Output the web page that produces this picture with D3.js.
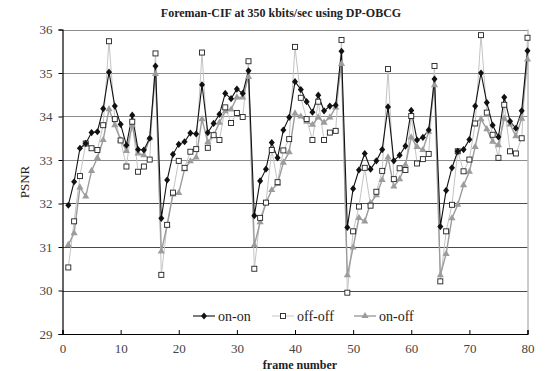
<!DOCTYPE html>
<html>
<head>
<meta charset="utf-8">
<script src="https://cdn.jsdelivr.net/npm/d3@7"></script>
<style>
  html, body { margin: 0; padding: 0; background: #fff; }
  svg, svg text { font-family: "Liberation Serif", "Times New Roman", "DejaVu Serif", serif !important; }
</style>
</head>
<body>
<svg id="chart" width="551" height="371"></svg>
<script>
// Frame numbers 1..80
const frames = d3.range(1, 81);

// PSNR per frame for each error-resilience configuration
const onOn = [
  31.96, 32.50, 33.27, 33.38, 33.63, 33.65, 34.18, 35.02, 34.24, 33.82,
  33.34, 34.03, 33.24, 33.23, 33.50, 35.16, 31.66, 32.54, 33.13, 33.36,
  33.42, 33.62, 33.60, 34.73, 33.63, 33.84, 34.05, 34.53, 34.41, 34.63,
  34.53, 35.05, 31.72, 32.52, 32.79, 33.40, 33.05, 33.69, 33.98, 34.80,
  34.62, 34.34, 34.10, 34.49, 34.13, 34.24, 34.26, 35.50, 31.45, 32.34,
  32.77, 33.15, 32.79, 32.98, 33.24, 34.22, 32.98, 33.11, 33.32, 34.14,
  33.46, 33.52, 33.69, 34.86, 31.47, 32.30, 32.82, 33.20, 33.24, 33.47,
  34.24, 35.00, 34.32, 33.80, 33.53, 34.44, 33.89, 33.73, 34.13, 35.51
];
const offOff = [
  30.53, 31.59, 32.63, 33.38, 33.27, 33.23, 33.80, 35.73, 33.94, 33.45,
  32.85, 33.88, 32.73, 32.85, 33.01, 35.45, 30.36, 31.51, 32.25, 32.98,
  32.82, 33.19, 33.25, 35.47, 33.28, 33.57, 33.46, 34.21, 33.85, 34.08,
  33.99, 35.27, 30.50, 31.67, 32.02, 33.23, 32.49, 33.22, 33.48, 35.60,
  34.43, 33.94, 33.46, 34.34, 33.46, 33.63, 33.67, 35.76, 29.95, 31.36,
  31.93, 32.82, 31.95, 32.27, 32.75, 35.09, 32.56, 32.81, 32.77, 34.01,
  32.92, 33.02, 33.14, 35.16, 30.21, 31.36, 31.97, 33.20, 32.74, 33.01,
  33.84, 35.87, 34.09, 33.58, 33.05, 34.27, 33.20, 33.15, 33.50, 35.81
];
const onOff = [
  31.05, 31.32, 32.37, 32.16, 32.75, 33.05, 33.46, 34.17, 33.80, 33.46,
  33.21, 33.80, 33.15, 33.11, 33.50, 34.98, 30.90, 31.50, 32.21, 32.24,
  32.79, 32.97, 33.06, 33.94, 33.41, 33.57, 33.86, 34.12, 34.16, 34.44,
  34.44, 34.91, 31.04, 31.57, 32.01, 32.31, 32.45, 32.94, 33.18, 34.07,
  34.00, 33.88, 33.81, 33.98, 33.86, 33.98, 34.21, 35.21, 30.35, 30.99,
  31.67, 31.59, 32.01, 32.19, 32.54, 33.06, 32.39, 32.56, 32.89, 33.52,
  33.30, 33.23, 33.65, 34.72, 30.35, 30.84, 31.66, 31.97, 32.42, 32.73,
  33.30, 33.94, 33.71, 33.42, 33.34, 33.95, 33.82, 33.55, 33.95, 35.31
];

const xTicks = [0, 10, 20, 30, 40, 50, 60, 70, 80];
const yTicks = [29, 30, 31, 32, 33, 34, 35, 36];

const titleText = "Foreman-CIF at 350 kbits/sec using DP-OBCG";
const xLabel = "frame number";
const yLabel = "PSNR";
const seriesNames = ["on-on", "off-off", "on-off"];

const serif = "'Liberation Serif', 'Times New Roman', 'DejaVu Serif', serif";
const svg = d3.select("#chart").attr("font-family", serif);
const plotLeft = 62.5, plotRight = 527.5, plotTop = 29.5, plotBottom = 334;

const x = d3.scaleLinear().domain([0, 80]).range([plotLeft, plotRight]);
const y = d3.scaleLinear().domain([29, 36]).range([plotBottom, plotTop]);

// horizontal gridlines
svg.append("g").selectAll("line").data(yTicks.filter(v => v > 29)).join("line")
  .attr("x1", plotLeft).attr("x2", plotRight)
  .attr("y1", d => Math.round(y(d)) + 0.5).attr("y2", d => Math.round(y(d)) + 0.5)
  .attr("stroke", d => d >= 33 ? "#8c8c8c" : "#4a4a4a")
  .attr("stroke-width", 1);

// right border
svg.append("line")
  .attr("x1", plotRight + 0.5).attr("x2", plotRight + 0.5)
  .attr("y1", plotTop).attr("y2", plotBottom)
  .attr("stroke", "#9a9a9a");

// axes
const yAxis = d3.axisLeft(y).tickValues(yTicks).tickSize(4).tickPadding(6).tickFormat(d3.format("d"));
const xAxis = d3.axisBottom(x).tickValues(xTicks).tickSize(-4).tickPadding(10).tickFormat(d3.format("d"));

const gy = svg.append("g").attr("transform", `translate(${plotLeft},0)`).call(yAxis);
const gx = svg.append("g").attr("transform", `translate(0,${plotBottom})`).call(xAxis);
[gx, gy].forEach(g => {
  g.attr("font-family", serif).attr("font-size", 13);
  g.select(".domain").attr("stroke", "#000").attr("stroke-width", 1.2);
  g.selectAll(".tick line").attr("stroke", "#000");
  g.selectAll(".tick text").attr("fill", "#444");
});

// series lines and markers
const line = d3.line().x((d, i) => x(frames[i])).y(d => y(d));

// compact diamond: half-width 3, half-height 3.6
const diamondType = {
  draw(ctx, size) {
    const w = 3, h = 3.6;
    ctx.moveTo(0, -h); ctx.lineTo(w, 0); ctx.lineTo(0, h); ctx.lineTo(-w, 0); ctx.closePath();
  }
};
const diamond = d3.symbol().type(diamondType);
const triangle = d3.symbol().type(d3.symbolTriangle).size(22);

function drawSeries(values, stroke, strokeWidth) {
  svg.append("path").datum(values)
    .attr("d", line).attr("fill", "none")
    .attr("stroke", stroke).attr("stroke-width", strokeWidth);
}

drawSeries(offOff, "#c4c4c4", 1);
drawSeries(onOff, "#9c9c9c", 1.4);
drawSeries(onOn, "#111", 1.1);

// on-off triangles
svg.append("g").selectAll("path").data(onOff).join("path")
  .attr("d", triangle)
  .attr("transform", (d, i) => `translate(${x(frames[i])},${y(d)})`)
  .attr("fill", "#9c9c9c");

// off-off hollow squares
svg.append("g").selectAll("rect").data(offOff).join("rect")
  .attr("x", (d, i) => x(frames[i]) - 2.5).attr("y", d => y(d) - 2.5)
  .attr("width", 5).attr("height", 5)
  .attr("fill", "#fff").attr("stroke", "#222").attr("stroke-width", 0.9);

// on-on diamonds
svg.append("g").selectAll("path").data(onOn).join("path")
  .attr("d", diamond)
  .attr("transform", (d, i) => `translate(${x(frames[i])},${y(d)})`)
  .attr("fill", "#111");

// legend
const legendY = 316;
const legendItems = [
  { name: seriesNames[0], x0: 193, color: "#111", w: 1.1, mark: "diamond" },
  { name: seriesNames[1], x0: 272, color: "#c4c4c4", w: 1, mark: "square" },
  { name: seriesNames[2], x0: 354, color: "#9c9c9c", w: 1.4, mark: "triangle" }
];
const lg = svg.append("g").attr("font-family", serif);
legendItems.forEach(it => {
  const cx = it.x0 + 11;
  lg.append("line").attr("x1", it.x0).attr("x2", it.x0 + 22)
    .attr("y1", legendY).attr("y2", legendY)
    .attr("stroke", it.color).attr("stroke-width", it.w);
  if (it.mark === "diamond") {
    lg.append("path").attr("d", diamond).attr("transform", `translate(${cx},${legendY})`).attr("fill", "#111");
  } else if (it.mark === "square") {
    lg.append("rect").attr("x", cx - 2.5).attr("y", legendY - 2.5).attr("width", 5).attr("height", 5)
      .attr("fill", "#fff").attr("stroke", "#222").attr("stroke-width", 0.9);
  } else {
    lg.append("path").attr("d", triangle).attr("transform", `translate(${cx},${legendY})`).attr("fill", "#9c9c9c");
  }
  lg.append("text").attr("x", it.x0 + 25).attr("y", legendY + 4.5)
    .attr("font-size", 14).attr("fill", "#222").text(it.name);
});

// title and axis titles
svg.append("text").attr("x", 281).attr("y", 17).attr("text-anchor", "middle")
  .attr("font-size", 12).attr("font-weight", "bold").attr("fill", "#222").text(titleText);
svg.append("text").attr("x", 300).attr("y", 369).attr("text-anchor", "middle")
  .attr("font-size", 12).attr("font-weight", "bold").attr("fill", "#222").text(xLabel);
svg.append("text").attr("transform", "translate(29,182) rotate(-90)").attr("text-anchor", "middle")
  .attr("font-size", 13).attr("fill", "#222").text(yLabel);
</script>
</body>
</html>
